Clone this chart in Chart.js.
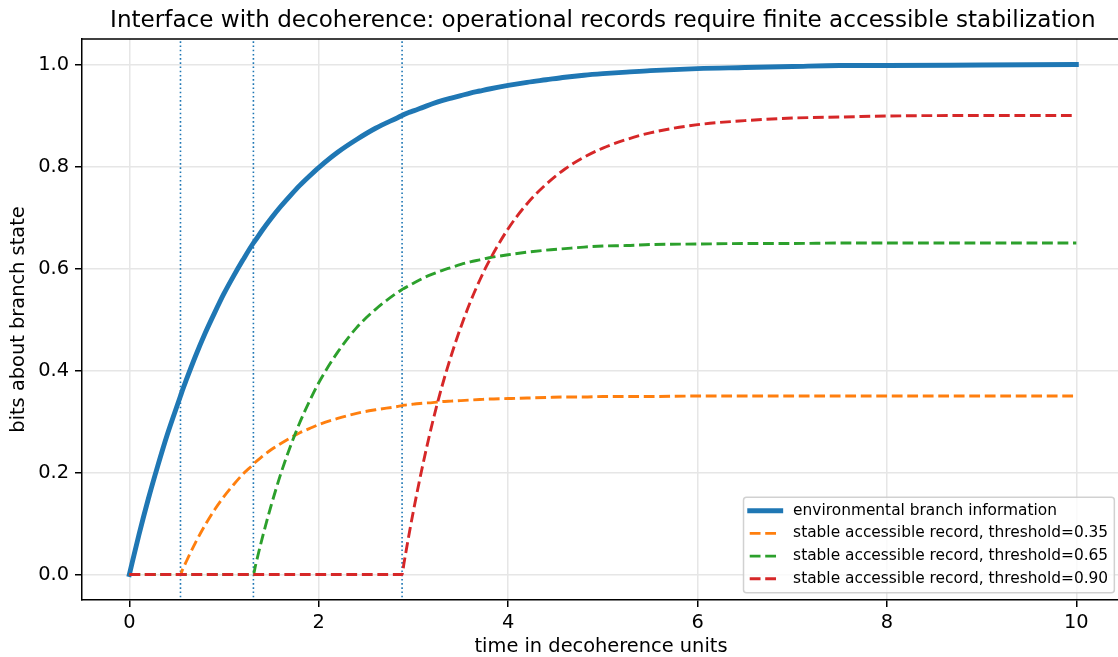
<!DOCTYPE html>
<html>
<head>
<meta charset="utf-8">
<title>Interface with decoherence</title>
<script src="https://cdn.jsdelivr.net/npm/chart.js@4.4.1/dist/chart.umd.min.js"></script>
<style>
    html, body { margin: 0; padding: 0; background: #fff; overflow: hidden; }
    #wrap { width: 1118px; height: 657px; overflow: hidden; }
</style>
</head>
<body>
<div id="wrap"><canvas id="decoherence-chart" width="1120" height="657"></canvas></div>
<script>
// ------------------ DATA -------------------//
const chartTitle = "Interface with decoherence: operational records require finite accessible stabilization";
const xTitle = "time in decoherence units";
const yTitle = "bits about branch state";

const times = [0, 0.1, 0.2, 0.3, 0.4, 0.54, 0.56, 0.6, 0.7, 0.8, 0.9,
    1.0, 1.1, 1.2, 1.31, 1.33, 1.4, 1.5, 1.6, 1.7, 1.8, 1.9,
    2.0, 2.2, 2.4, 2.6, 2.88, 2.9, 2.95, 3.0, 3.1, 3.2, 3.3,
    3.4, 3.5, 3.6, 3.7, 3.8, 4.0, 4.2, 4.4, 4.6, 4.8,
    5.0, 5.25, 5.5, 6.0, 6.5, 7.0, 7.5, 8.0, 9.0, 10.0];

const branchInfo = [0, 0.077, 0.148, 0.213, 0.274, 0.350, 0.361, 0.381, 0.429, 0.473, 0.513,
    0.551, 0.585, 0.617, 0.650, 0.655, 0.674, 0.699, 0.722, 0.743, 0.763, 0.781,
    0.798, 0.828, 0.853, 0.875, 0.900, 0.902, 0.906, 0.909, 0.916, 0.923, 0.929,
    0.934, 0.939, 0.944, 0.948, 0.952, 0.959, 0.965, 0.970, 0.975, 0.979,
    0.982, 0.985, 0.988, 0.992, 0.994, 0.996, 0.998, 0.998, 0.999, 1.000];

const record035 = [0, 0, 0, 0, 0, 0, 0.009, 0.025, 0.063, 0.097, 0.127,
    0.153, 0.176, 0.197, 0.216, 0.220, 0.231, 0.245, 0.257, 0.268, 0.278, 0.286,
    0.294, 0.306, 0.316, 0.323, 0.331, 0.332, 0.333, 0.334, 0.336, 0.337, 0.339,
    0.340, 0.341, 0.342, 0.343, 0.344, 0.345, 0.346, 0.347, 0.348, 0.348,
    0.349, 0.349, 0.349, 0.350, 0.350, 0.350, 0.350, 0.350, 0.350, 0.350];

const record065 = [0, 0, 0, 0, 0, 0, 0, 0, 0, 0, 0,
    0, 0, 0, 0, 0.016, 0.069, 0.137, 0.198, 0.251, 0.298, 0.339,
    0.376, 0.436, 0.484, 0.520, 0.559, 0.561, 0.566, 0.571, 0.581, 0.589, 0.596,
    0.602, 0.608, 0.613, 0.617, 0.621, 0.627, 0.632, 0.636, 0.639, 0.642,
    0.644, 0.645, 0.647, 0.648, 0.649, 0.649, 0.650, 0.650, 0.650, 0.650];

const record090 = [0, 0, 0, 0, 0, 0, 0, 0, 0, 0, 0,
    0, 0, 0, 0, 0, 0, 0, 0, 0, 0, 0,
    0, 0, 0, 0, 0, 0.022, 0.075, 0.125, 0.216, 0.297, 0.368,
    0.430, 0.485, 0.534, 0.577, 0.615, 0.678, 0.727, 0.765, 0.795, 0.818,
    0.836, 0.853, 0.866, 0.882, 0.890, 0.895, 0.897, 0.899, 0.900, 0.900];

// times where each record starts (marked with dotted lines)
const recordStarts = [0.54, 1.31, 2.88];

const xTicks = [0, 2, 4, 6, 8, 10];
const xTickLabels = ["0", "2", "4", "6", "8", "10"];
const yTicks = [0, 0.2, 0.4, 0.6, 0.8, 1.0];
const yTickLabels = ["0.0", "0.2", "0.4", "0.6", "0.8", "1.0"];

// visible x range: the axes run to 10.5 but the picture is cut a little before that
const xMin = -0.5;
const xMax = 10.461;
const xMid = 5;

// ------------------ HELPERS -------------------//
const toPoints = ys => times.map((t, i) => ({ x: t, y: ys[i] }));
const FONT = "'DejaVu Sans', sans-serif";

Chart.defaults.font.family = FONT;
Chart.defaults.color = '#000';

const datasets = [
    {
        label: 'environmental branch information',
        data: toPoints(branchInfo),
        borderColor: '#1f77b4',
        borderWidth: 4.9,
        borderCapStyle: 'square',
        borderJoinStyle: 'round',
        order: 4,
        inLegend: true
    },
    {
        label: 'stable accessible record, threshold=0.35',
        data: toPoints(record035),
        borderColor: '#ff7f0e',
        borderWidth: 2.9,
        borderDash: [10.8, 4.7],
        order: 3,
        inLegend: true
    },
    {
        label: 'stable accessible record, threshold=0.65',
        data: toPoints(record065),
        borderColor: '#2ca02c',
        borderWidth: 2.9,
        borderDash: [10.8, 4.7],
        order: 2,
        inLegend: true
    },
    {
        label: 'stable accessible record, threshold=0.90',
        data: toPoints(record090),
        borderColor: '#d62728',
        borderWidth: 2.9,
        borderDash: [10.8, 4.7],
        order: 1,
        inLegend: true
    }
];

recordStarts.forEach(t => {
    datasets.push({
        label: '',
        data: [{ x: t, y: -1 }, { x: t, y: 2 }],
        borderColor: '#1f77b4',
        borderWidth: 1.6,
        borderDash: [1.6, 2.6],
        cubicInterpolationMode: 'default',
        clip: 0,
        order: 5,
        inLegend: false
    });
});

// ------------------ PLUGINS -------------------//
// top spine and the title above the axes
const frameAndTitle = {
    id: 'frameAndTitle',
    afterDatasetsDraw(chart) {
        const { ctx, chartArea: a } = chart;
        ctx.save();
        ctx.strokeStyle = '#000';
        ctx.lineWidth = 1.5;
        ctx.beginPath();
        ctx.moveTo(a.left, a.top);
        ctx.lineTo(chart.width, a.top);
        ctx.stroke();
        ctx.fillStyle = '#000';
        ctx.font = "23.1px " + FONT;
        ctx.textAlign = 'center';
        ctx.textBaseline = 'alphabetic';
        ctx.fillText(chartTitle, chart.scales.x.getPixelForValue(xMid), a.top - 12);
        ctx.restore();
    }
};

// legend box in the lower right corner of the axes
const boxLegend = {
    id: 'boxLegend',
    afterDraw(chart) {
        const { ctx, chartArea: a } = chart;
        const items = chart.data.datasets.filter(d => d.inLegend);
        const fontPx = 15.4, pad = 6.2, handleLen = 31, textPad = 12.4, rowGap = 22.7;
        ctx.save();
        ctx.font = fontPx + "px " + FONT;
        const textW = Math.max(...items.map(d => ctx.measureText(d.label).width));
        const right = chart.scales.x.getPixelForValue(10) + 38;
        const bottom = a.bottom - 7.3;
        const left = right - (pad + handleLen + textPad + textW + pad);
        const top = bottom - 95.4;

        ctx.beginPath();
        ctx.roundRect(left, top, right - left, bottom - top, 3);
        ctx.fillStyle = 'rgba(255,255,255,0.8)';
        ctx.fill();
        ctx.strokeStyle = 'rgba(204,204,204,0.9)';
        ctx.lineWidth = 1.5;
        ctx.stroke();

        items.forEach((d, i) => {
            const y = top + 13.4 + i * rowGap;
            const hx = left + pad;
            ctx.beginPath();
            ctx.strokeStyle = d.borderColor;
            ctx.lineWidth = d.borderWidth;
            ctx.lineCap = d.borderCapStyle || 'butt';
            ctx.setLineDash(d.borderDash || []);
            ctx.moveTo(hx, y);
            ctx.lineTo(hx + handleLen, y);
            ctx.stroke();
            ctx.setLineDash([]);
            ctx.fillStyle = '#000';
            ctx.textAlign = 'left';
            ctx.textBaseline = 'middle';
            ctx.fillText(d.label, hx + handleLen + textPad, y);
        });
        ctx.restore();
    }
};

// ------------------ CHART -------------------//
const canvas = document.getElementById('decoherence-chart');

const chart = new Chart(canvas, {
    type: 'line',
    data: { datasets: datasets },
    options: {
        responsive: false,
        devicePixelRatio: 1,
        animation: false,
        events: [],
        layout: { padding: { top: 39, right: 0, bottom: 0, left: 0 } },
        elements: {
            point: { radius: 0 },
            line: { cubicInterpolationMode: 'monotone', fill: false }
        },
        plugins: {
            legend: { display: false },
            tooltip: { enabled: false },
            title: { display: false }
        },
        scales: {
            x: {
                type: 'linear',
                min: xMin,
                max: xMax,
                afterBuildTicks: scale => { scale.ticks = xTicks.map(v => ({ value: v })); },
                afterFit: scale => { scale.height = 57; },
                ticks: {
                    callback: (v, i) => xTickLabels[i],
                    font: { size: 19.4, lineHeight: 1.2 },
                    color: '#000',
                    padding: 4,
                    maxRotation: 0
                },
                grid: {
                    color: '#e6e6e6',
                    lineWidth: 1.5,
                    tickColor: '#000',
                    tickWidth: 1.5,
                    tickLength: 7
                },
                border: { color: '#000', width: 1.5 },
                title: {
                    display: true,
                    text: xTitle,
                    font: { size: 19.4, lineHeight: 1 },
                    color: '#000',
                    padding: { top: 0, bottom: 0 }
                }
            },
            y: {
                min: -0.05,
                max: 1.05,
                afterBuildTicks: scale => { scale.ticks = yTicks.map(v => ({ value: v })); },
                afterFit: scale => { scale.width = 82; },
                ticks: {
                    callback: (v, i) => yTickLabels[i],
                    font: { size: 19.4, lineHeight: 1.2 },
                    color: '#000',
                    padding: 6
                },
                grid: {
                    color: '#e6e6e6',
                    lineWidth: 1.5,
                    tickColor: '#000',
                    tickWidth: 1.5,
                    tickLength: 7
                },
                border: { color: '#000', width: 1.5 },
                title: {
                    display: true,
                    text: yTitle,
                    font: { size: 19.4, lineHeight: 1 },
                    color: '#000',
                    padding: { top: 9, bottom: 0 }
                }
            }
        }
    },
    plugins: [frameAndTitle, boxLegend]
});
</script>
</body>
</html>
